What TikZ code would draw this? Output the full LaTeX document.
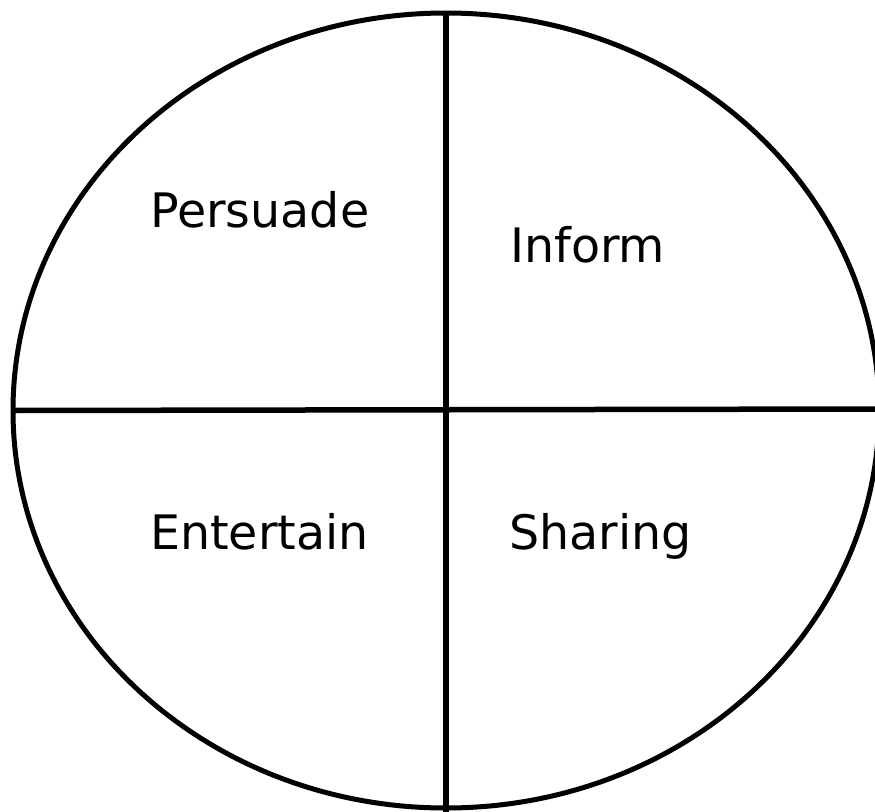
\documentclass[tikz,border=0pt]{standalone}
\usepackage{fontspec}
\setmainfont{DejaVu Sans}
\usetikzlibrary{shapes.geometric, positioning}

\begin{document}
\begin{tikzpicture}[
    x=1pt, y=-1pt,
    divider/.style={line width=5.5pt, draw=black},
    label/.style={anchor=base west, inner sep=0pt, font=\fontsize{47.5}{57}\selectfont}
]
\useasboundingbox (0,0) rectangle (875,811);

\node[ellipse, draw, line width=5pt, outer sep=0pt, inner sep=0pt,
      minimum width=866pt, minimum height=795pt] (disk) at (446,410.5) {};
\coordinate (bottom) at (446,815);
\coordinate (right) at (880,409);

\draw[divider] (disk.north) -- (bottom);
\draw[divider] (disk.west) -- (right);

\node[label] (persuade) at (150,227) {Persuade};
\node[label] (inform) at (510,262) {Inform};
\node[label] (entertain) at (150,549) {Entertain};
\node[label] (sharing) at (509,549) {Sharing};

\end{tikzpicture}
\end{document}
